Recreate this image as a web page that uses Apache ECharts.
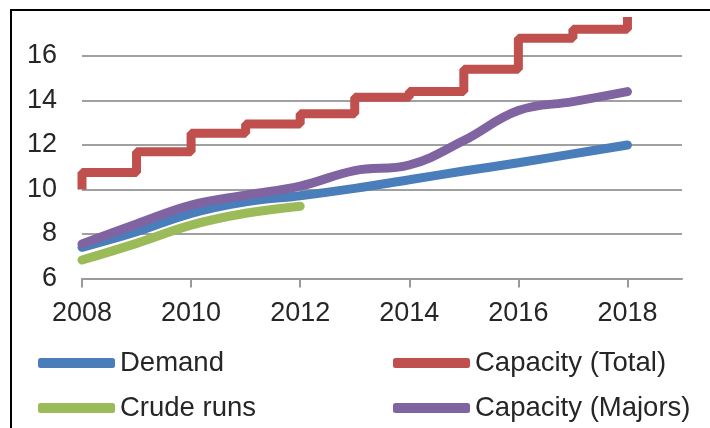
<!DOCTYPE html>
<html>
<head>
<meta charset="utf-8">
<script src="https://cdn.jsdelivr.net/npm/echarts@6/dist/echarts.min.js"></script>
<style>
  html, body { margin: 0; padding: 0; background: #fff; }
  #chart { width: 710px; height: 428px; }
</style>
</head>
<body>
<div id="chart"></div>
<script>
// values
const years = [2008, 2009, 2010, 2011, 2012, 2013, 2014, 2015, 2016, 2017, 2018];
const demand = [7.4, 8.1, 8.93, 9.45, 9.72, 10.05, 10.44, 10.83, 11.2, 11.6, 12.0];
const crudeYears = [2008, 2009, 2010, 2011, 2012];
const crudeRuns = [6.83, 7.58, 8.4, 8.93, 9.25];
const capMajors = [7.55, 8.45, 9.3, 9.75, 10.15, 10.85, 11.1, 12.2, 13.55, 13.95, 14.4];
// stepped total capacity (last year gets a final step up)
const capTotalYears = [2008, 2009, 2010, 2011, 2012, 2013, 2014, 2015, 2016, 2017, 2018, 2018];
const capTotal = [10, 10.76, 11.7, 12.53, 12.94, 13.4, 14.15, 14.4, 15.4, 16.8, 17.2, 17.75];
const xTicks = [2008, 2010, 2012, 2014, 2016, 2018];

const pairs = (xs, ys) => xs.map((x, i) => [x, ys[i]]);

const FONT = "'Liberation Sans', Arial, sans-serif";
const TXT = '#262626';

let chart = echarts.init(document.getElementById('chart'));

function legendAt(name, left, top) {
  return {
    data: [name],
    left: left,
    top: top,
    padding: 0,
    icon: 'roundRect',
    itemWidth: 77,
    itemHeight: 10,
    selectedMode: false,
    textStyle: { fontFamily: FONT, fontSize: 27.5, color: TXT }
  };
}

chart.setOption({
  animation: false,
  grid: { left: 82, right: 28, top: 11.5, bottom: 149.5 },
  legend: [
    legendAt('Demand', 38, 349),
    legendAt('Capacity (Total)', 393, 349),
    legendAt('Crude runs', 38, 394),
    legendAt('Capacity (Majors)', 393, 394)
  ],
  xAxis: {
    type: 'value',
    min: 2008,
    max: 2019,
    axisLine: { show: true, lineStyle: { color: '#9a9a9a', width: 2 } },
    axisTick: { show: true, length: 9, lineStyle: { color: '#9a9a9a', width: 2 }, customValues: xTicks },
    axisLabel: {
      customValues: xTicks,
      formatter: v => String(v),
      margin: 22,
      fontFamily: FONT, fontSize: 27, color: TXT
    },
    splitLine: { show: false }
  },
  yAxis: {
    type: 'value',
    min: 6,
    max: 18,
    interval: 2,
    axisLine: { show: false },
    axisTick: { show: false },
    axisLabel: { showMaxLabel: false, margin: 25, fontFamily: FONT, fontSize: 27, color: TXT },
    splitLine: { show: true, showMaxLine: false, lineStyle: { color: '#a0a0a0', width: 2 } }
  },
  graphic: [{
    type: 'rect',
    shape: { x: 11, y: 10, width: 760, height: 500 },
    style: { fill: 'none', stroke: '#000', lineWidth: 2 },
    silent: true
  }],
  series: [
    {
      name: 'Demand', type: 'line', smooth: 0.4, showSymbol: false,
      data: pairs(years, demand),
      lineStyle: { color: '#4A7EBB', width: 9, cap: 'round' },
      itemStyle: { color: '#4A7EBB' }
    },
    {
      name: 'Capacity (Total)', type: 'line', step: 'start', showSymbol: false,
      data: pairs(capTotalYears, capTotal),
      lineStyle: { color: '#C0504D', width: 9 },
      itemStyle: { color: '#C0504D' }
    },
    {
      name: 'Crude runs', type: 'line', smooth: 0.4, showSymbol: false,
      data: pairs(crudeYears, crudeRuns),
      lineStyle: { color: '#9BBB59', width: 9, cap: 'round' },
      itemStyle: { color: '#9BBB59' }
    },
    {
      name: 'Capacity (Majors)', type: 'line', smooth: 0.4, showSymbol: false,
      data: pairs(years, capMajors),
      lineStyle: { color: '#8064A2', width: 9, cap: 'round' },
      itemStyle: { color: '#8064A2' }
    }
  ]
});
</script>
</body>
</html>
